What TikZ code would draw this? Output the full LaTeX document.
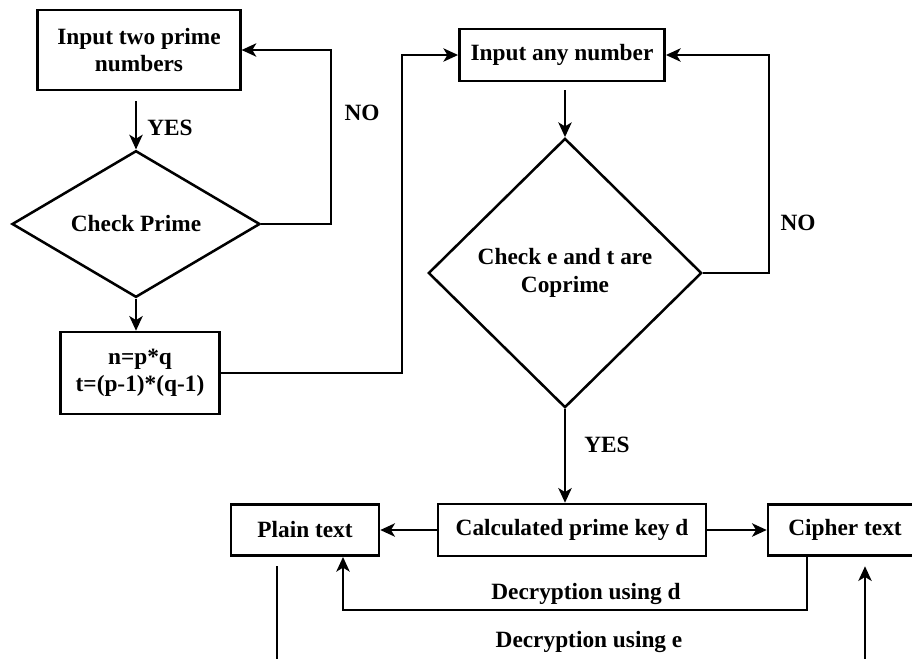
\documentclass[tikz,border=0pt]{standalone}
\usepackage{fontspec}
\setmainfont{Liberation Serif}
\usetikzlibrary{arrows.meta,shapes.geometric}

\begin{document}
\begin{tikzpicture}[x=0.75pt,y=-0.75pt,
		font=\fontsize{17.5}{20.5}\selectfont\bfseries,
		line width=1.7pt,
		arr/.style={-{Stealth[length=11pt,width=10pt,inset=3pt]}},
		box/.style={draw,line width=1.9pt,align=center,inner sep=0pt},
		decide/.style={draw,diamond,line width=1.9pt,align=center,inner sep=0pt}]
			\useasboundingbox (0,0) rectangle (912,658);
			\clip (0,0) rectangle (912,658);
			\node[box,minimum width=152pt,minimum height=60pt] (inp) at (139,50) {Input two prime\\numbers};
			\node[decide,minimum width=186pt,minimum height=89pt] (prime) at (136,224) {Check Prime};
			\node[box,minimum width=119pt,minimum height=61.5pt] (nt) at (140,373) {n=p*q\\t=(p-1)*(q-1)};
			\node[box,minimum width=154pt,minimum height=39pt] (anynum) at (562,55) {Input any number};
			\node[decide,minimum width=205pt,minimum height=202pt] (copr) at (565,273) {Check e and t are\\Coprime};
			\node[box,minimum width=201pt,minimum height=39pt] (key) at (572,530) {Calculated prime key d};
			\node[box,minimum width=111pt,minimum height=38.5pt] (plain) at (305,530) {Plain text};
			\node[box,minimum width=115.5pt,minimum height=38.5pt] (cipher) at (845,530) {Cipher text};

			\coordinate (c1) at (331,0);
			\coordinate (c2) at (402,0);
			\coordinate (c3) at (769,0);
			\coordinate (d1) at (807,610);
			\coordinate (d2) at (343,610);
			\coordinate (e1) at (277,670);
			\coordinate (e2) at (865,670);

			\draw[arr,shorten <=7.5pt] (inp.south -| prime.north) -- (prime.north);
			\draw[arr] (prime.east) -- (prime.east -| c1) |- (inp.east);
			\draw[arr] (prime.south) -- (prime.south |- nt.north);
			\draw[arr] (nt.east) -- (nt.east -| c2) |- (anynum.west);
			\draw[arr,shorten <=6pt] (anynum.south -| copr.north) -- (copr.north);
			\draw[arr] (copr.east) -- (copr.east -| c3) |- (anynum.east);
			\draw[arr] (copr.south) -- (copr.south |- key.north);
			\draw[arr] (key.west) -- (plain.east);
			\draw[arr] (key.east) -- (cipher.west);
			\draw[arr] (d1 |- cipher.south) -- (d1) -- (d2) -- (d2 |- plain.south);
			\draw[shorten <=7pt] (e1 |- plain.south) -- (e1);
			\draw[arr,shorten >=7pt] (e2) -- (e2 |- cipher.south);

			\draw (170,128) node {YES};
			\draw (362,113) node {NO};
			\draw (798,223) node {NO};
			\draw (607,445) node {YES};
			\draw (586,594) node {Decryption using d};
			\draw (589,642) node {Decryption using e};
		\end{tikzpicture}
\end{document}
